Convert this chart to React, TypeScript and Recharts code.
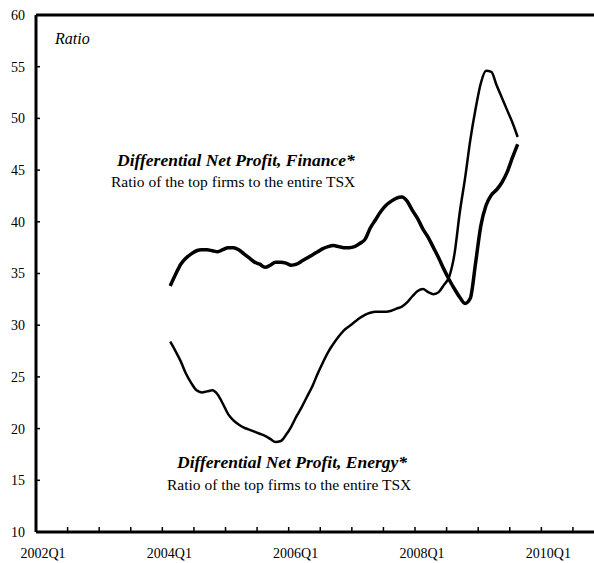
import React from 'react';
import { LineChart, Line, XAxis, YAxis, ReferenceLine, Customized } from 'recharts';

// months counted from 2002-01; first observation is Feb 2004 (middle of 2004Q1)
const firstMonth = 25;

const financeRatio = [
  33.8, 34.9, 35.9, 36.5, 36.9, 37.2, 37.3, 37.3, 37.2, 37.1, 37.3, 37.5,
  37.5, 37.3, 36.9, 36.5, 36.1, 35.9, 35.6, 35.8, 36.1, 36.1, 36.0, 35.8,
  35.9, 36.2, 36.5, 36.8, 37.1, 37.4, 37.6, 37.7, 37.6, 37.5, 37.5, 37.6,
  37.9, 38.3, 39.4, 40.2, 41.0, 41.6, 42.0, 42.3, 42.4, 42.0, 41.1, 40.3,
  39.3, 38.5, 37.5, 36.5, 35.4, 34.4, 33.5, 32.7, 32.1, 32.6, 36.0, 39.6,
  41.6, 42.6, 43.1, 43.8, 44.8, 46.2, 47.5,
];

const energyRatio = [
  28.4, 27.5, 26.5, 25.3, 24.4, 23.7, 23.5, 23.6, 23.7, 23.3, 22.4, 21.4,
  20.8, 20.4, 20.1, 19.9, 19.7, 19.5, 19.3, 19.0, 18.7, 18.8, 19.4, 20.2,
  21.2, 22.1, 23.1, 24.1, 25.3, 26.4, 27.4, 28.2, 28.9, 29.5, 29.9, 30.3,
  30.7, 31.0, 31.2, 31.3, 31.3, 31.3, 31.4, 31.6, 31.8, 32.2, 32.8, 33.3,
  33.5, 33.2, 33.0, 33.2, 33.9, 34.7, 36.9, 40.9, 44.2, 47.9, 50.9, 53.4,
  54.6, 54.5, 53.2, 52.0, 50.8, 49.6, 48.2,
];

const yTicks = [10, 15, 20, 25, 30, 35, 40, 45, 50, 55, 60];
const xTicks = [0, 6, 12, 18, 24, 30, 36, 42, 48, 54, 60, 66, 72, 78, 84, 90, 96, 102];
const xLabels: Record<number, string> = {
  0: '2002Q1',
  24: '2004Q1',
  48: '2006Q1',
  72: '2008Q1',
  96: '2010Q1',
};

const data = financeRatio.map((v, i) => ({
  t: firstMonth + i + 0.5,
  finance: v,
  energy: energyRatio[i],
}));

const FONT = '"Liberation Serif", "Times New Roman", serif';

function XTick(props: any) {
  const { x, y, payload } = props;
  const label = xLabels[payload.value];
  return (
    <g>
      <line x1={x} x2={x} y1={y} y2={y - 5} stroke="#000" strokeWidth={1.5} />
      {label && (
        <text x={x + 7} y={y + 26} textAnchor="middle" fontSize={14} fontFamily={FONT} fill="#000">
          {label}
        </text>
      )}
    </g>
  );
}

function YTick(props: any) {
  const { x, y, payload } = props;
  return (
    <g>
      <line x1={x} x2={x + 4} y1={y} y2={y} stroke="#000" strokeWidth={1.5} />
      <text x={x - 11} y={y} dy="0.35em" textAnchor="end" fontSize={14} fontFamily={FONT} fill="#000">
        {payload.value}
      </text>
    </g>
  );
}

function Notes() {
  return (
    <g fontFamily={FONT} fill="#000">
      <text x={55} y={44} fontSize={16} fontStyle="italic">Ratio</text>
      <text x={117} y={166} fontSize={17.5} fontWeight="bold" fontStyle="italic">
        Differential Net Profit, Finance*
      </text>
      <text x={111} y={187} fontSize={15.5}>Ratio of the top firms to the entire TSX</text>
      <text x={177} y={468} fontSize={17.5} fontWeight="bold" fontStyle="italic">
        Differential Net Profit, Energy*
      </text>
      <text x={167} y={490} fontSize={15.5}>Ratio of the top firms to the entire TSX</text>
    </g>
  );
}

export default function App() {
  return (
    <div style={{ position: 'absolute', left: 0, top: 0, background: '#fff' }}>
      <LineChart width={594} height={563} data={data} margin={{ top: 15, right: 0, bottom: 0, left: 0 }}>
        <XAxis
          dataKey="t"
          type="number"
          domain={[0, 106]}
          ticks={xTicks}
          height={31}
          tickSize={0}
          tickMargin={0}
          tickLine={false}
          tick={<XTick />}
          axisLine={{ stroke: '#000', strokeWidth: 3 }}
          interval={0}
        />
        <YAxis
          type="number"
          domain={[10, 60]}
          ticks={yTicks}
          width={36}
          tickSize={0}
          tickMargin={0}
          tickLine={false}
          tick={<YTick />}
          axisLine={{ stroke: '#000', strokeWidth: 3 }}
          interval={0}
        />
        <ReferenceLine y={60} stroke="#000" strokeWidth={3} />
        <Line
          type="monotone"
          dataKey="finance"
          stroke="#000"
          strokeWidth={3.5}
          dot={false}
          isAnimationActive={false}
        />
        <Line
          type="monotone"
          dataKey="energy"
          stroke="#000"
          strokeWidth={2.5}
          dot={false}
          isAnimationActive={false}
        />
        <Customized component={Notes} />
      </LineChart>
    </div>
  );
}
